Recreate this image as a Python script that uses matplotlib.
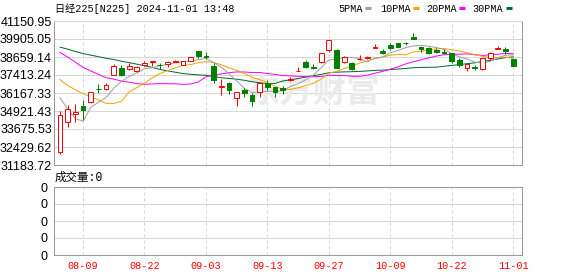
import matplotlib as mpl
mpl.use('Agg')
import matplotlib.pyplot as plt
from matplotlib.patches import Rectangle
from matplotlib.lines import Line2D

W, H = 578, 276

dates = ['08-06', '08-07', '08-08', '08-09', '08-13', '08-14', '08-15', '08-16', '08-19', '08-20',
         '08-21', '08-22', '08-23', '08-26', '08-27', '08-28', '08-29', '08-30', '09-02', '09-03',
         '09-04', '09-05', '09-06', '09-09', '09-10', '09-11', '09-12', '09-13', '09-17', '09-18',
         '09-19', '09-20', '09-24', '09-25', '09-26', '09-27', '09-30', '10-01', '10-02', '10-03',
         '10-04', '10-07', '10-08', '10-09', '10-10', '10-11', '10-15', '10-16', '10-17', '10-18',
         '10-21', '10-22', '10-23', '10-24', '10-25', '10-28', '10-29', '10-30', '10-31', '11-01']

opens = [32077, 34140, 34715, 35269, 35525, 36470, 36424, 37393, 37878, 37830,
         37710, 38080, 38340, 38130, 38150, 38340, 38106, 38383, 39050, 38720,
         38037, 36560, 36840, 35850, 36376, 36009, 36259, 36880, 36562, 36520,
         37080, 37690, 38334, 37940, 38334, 39144, 39144, 38292, 38265, 38500,
         38600, 39290, 39096, 39490, 39607, 39640, 40023, 39373, 39262, 39144,
         39000, 38916, 38452, 37878, 37960, 37808, 38570, 39230, 39213, 38500]
highs = [34911, 35320, 35407, 35663, 36260, 36770, 36880, 38175, 38106, 38265,
         38058, 38383, 38383, 38265, 38383, 38420, 38400, 38680, 39100, 38985,
         38224, 37137, 36950, 36240, 36494, 36148, 36931, 37068, 36600, 36653,
         37296, 37940, 38452, 38175, 38950, 39870, 39180, 38700, 38300, 38800,
         38727, 39560, 39190, 39607, 39650, 39710, 40300, 39440, 39373, 39262,
         39213, 38950, 38570, 38180, 38106, 38620, 39000, 39420, 39373, 38520]
lows = [31961, 33795, 34180, 34300, 35480, 36148, 36400, 37380, 37345, 37770,
        37643, 38050, 38070, 37808, 37989, 38300, 38080, 38360, 38570, 38521,
        36880, 36030, 36100, 35290, 35911, 35290, 35911, 36376, 35911, 36100,
        36999, 37680, 37878, 37830, 38224, 38985, 37880, 38250, 37780, 38480,
        38500, 39270, 38866, 39144, 39330, 39470, 39880, 39027, 38880, 38950,
        38866, 38265, 37989, 37712, 37760, 37790, 38452, 39230, 38890, 38030]
closes = [34675, 35089, 34831, 35025, 36232, 36442, 36726, 38062, 37388, 38050,
          37940, 38211, 38364, 38110, 38288, 38371, 38362, 38647, 38700, 38686,
          37047, 36657, 36391, 36215, 36159, 35619, 36833, 36581, 36203, 36380,
          37155, 37723, 37940, 37870, 38925, 39829, 37919, 38651, 37808, 38552,
          38635, 39332, 38937, 39277, 39380, 39605, 39910, 39180, 38911, 38981,
          38954, 38411, 38104, 38143, 37913, 38605, 38950, 39277, 39081, 38053]

ma5 = [35854, 35052, 34393, 34216, 35170, 35524, 35851, 36497, 36970, 37314,
       37559, 37856, 37917, 38061, 38129, 38269, 38299, 38356, 38474, 38553,
       38288, 37947, 37496, 36999, 36494, 36208, 36243, 36281, 36279, 36323,
       36630, 36808, 37080, 37414, 37923, 38457, 38497, 38639, 38626, 38552,
       38313, 38596, 38653, 38947, 39112, 39306, 39422, 39470, 39397, 39317,
       39187, 38887, 38672, 38519, 38305, 38235, 38358, 38593, 38781, 38809]
ma10 = [37096, 36689, 36385, 36121, 35897, 35689, 35451, 35445, 35593, 36242,
        36542, 36854, 37207, 37516, 37721, 37914, 38078, 38136, 38267, 38341,
        38279, 38123, 37926, 37736, 37524, 37248, 37095, 36889, 36639, 36409,
        36419, 36526, 36681, 36846, 37123, 37544, 37653, 37860, 38020, 38237,
        38385, 38546, 38646, 38787, 38832, 38810, 39009, 39062, 39172, 39215,
        39247, 39155, 39071, 38958, 38811, 38711, 38623, 38633, 38650, 38557]
ma20 = [38977, 38652, 38302, 37942, 37694, 37453, 37234, 37131, 36997, 36915,
        36819, 36771, 36796, 36818, 36809, 36802, 36765, 36791, 36930, 37292,
        37410, 37489, 37567, 37626, 37622, 37581, 37587, 37513, 37453, 37375,
        37349, 37325, 37303, 37291, 37323, 37396, 37374, 37374, 37330, 37323,
        37402, 37536, 37663, 37816, 37977, 38177, 38331, 38461, 38596, 38726,
        38816, 38850, 38859, 38872, 38822, 38760, 38816, 38847, 38911, 38886]
ma30 = [39340, 39204, 39042, 38898, 38787, 38680, 38569, 38485, 38367, 38269,
        38165, 38053, 37937, 37800, 37703, 37607, 37515, 37466, 37421, 37390,
        37305, 37222, 37173, 37124, 37047, 36950, 36875, 36823, 36833, 36997,
        37080, 37168, 37271, 37366, 37456, 37569, 37609, 37628, 37642, 37662,
        37694, 37732, 37751, 37790, 37826, 37867, 37919, 37937, 37944, 37954,
        38017, 38076, 38133, 38197, 38255, 38355, 38428, 38518, 38614, 38670]

price_ticks = [41150.95, 39905.05, 38659.14, 37413.24, 36167.33,
               34921.43, 33675.53, 32429.62, 31183.72]
date_ticks = ['08-09', '08-22', '09-03', '09-13', '09-27', '10-09', '10-22', '11-01']
vol_ticks = [0, 0, 0, 0, 0]

ma_names = ['5PMA', '10PMA', '20PMA', '30PMA']
ma_colors = ['#a0a0a0', '#f5a300', '#ff00ff', '#006b33']

UP = '#ff0000'
DOWN = '#008000'
GRID = '#d6d6d6'
BORDER = '#999999'
MONO = ['Liberation Mono', 'Noto Sans CJK SC']
LPX = 0.72


def fx(px):
  return px / W


def fy(py):
  return 1 - py / H


fig = plt.figure(figsize=(W / 100, H / 100), dpi=100)
fig.patch.set_facecolor('white')

ax = fig.add_axes([fx(54), fy(165), 468 / W, 144 / H])
vax = fig.add_axes([fx(54), fy(255), 468 / W, 68 / H])

n = len(dates)
xs = list(range(n))
xlo, xhi = -0.78, n - 1 + 1.15
tick_pos = [dates.index(d) for d in date_ticks]

# price panel
ax.set_xlim(xlo, xhi)
ax.set_ylim(price_ticks[-1], price_ticks[0])
ax.set_yticks(price_ticks)
ax.set_yticklabels(['%.2f' % v for v in price_ticks], family='Liberation Sans', fontsize=9)
ax.set_xticks(tick_pos)
ax.set_xticklabels([])
ax.tick_params(length=0, pad=1.5)
ax.set_axisbelow(True)
ax.grid(axis='y', color=GRID, lw=LPX, ls='-')
ax.grid(axis='x', color=GRID, lw=LPX, ls=(0, (3, 3)))
for s in ax.spines.values():
  s.set_color(BORDER)
  s.set_linewidth(LPX)
ax.spines['top'].set_color(GRID)

ax.text(0.553, 0.5, '东方财富', transform=ax.transAxes, ha='center', va='center',
        fontsize=24, color='#ebebeb', weight='bold', family='Noto Sans CJK SC', zorder=0.6)

for vals, c in zip([ma30, ma20, ma10, ma5], ma_colors[::-1]):
  ax.plot(xs, vals, color=c, lw=LPX, zorder=2)

bw = 0.62
for i in xs:
  o, h, l, c = opens[i], highs[i], lows[i], closes[i]
  top, bot = max(o, c), min(o, c)
  if c >= o:
    ax.add_patch(Rectangle((i - bw / 2, bot), bw, top - bot, fc='white', ec=UP, lw=LPX, zorder=3))
    ax.vlines(i, top, h, color=UP, lw=LPX, zorder=3)
    ax.vlines(i, l, bot, color=UP, lw=LPX, zorder=3)
  else:
    ax.vlines(i, l, h, color=DOWN, lw=LPX, zorder=3)
    ax.add_patch(Rectangle((i - bw / 2, bot), bw, top - bot, fc=DOWN, ec=DOWN, lw=LPX, zorder=3))

# volume panel
vax.set_xlim(xlo, xhi)
vax.set_ylim(0, len(vol_ticks) - 1)
vax.set_yticks(range(len(vol_ticks)))
vax.set_yticklabels([str(v) for v in vol_ticks], family='Liberation Sans', fontsize=9)
vax.set_xticks(tick_pos)
vax.set_xticklabels(date_ticks, family=MONO, fontsize=7.3, color=UP)
vax.tick_params(axis='y', length=0, pad=4.5)
vax.tick_params(axis='x', length=0, pad=4)
vax.set_axisbelow(True)
vax.grid(axis='y', color=GRID, lw=LPX, ls='-')
vax.grid(axis='x', color=GRID, lw=LPX, ls=(0, (3, 3)))
for s in vax.spines.values():
  s.set_color(BORDER)
  s.set_linewidth(LPX)

# header texts
fig.text(fx(55), fy(8.5), '日经225[N225] 2024-11-01 13:48', family=MONO, fontsize=7.3, va='center')
fig.text(fx(55), fy(178), '成交量:0', family=MONO, fontsize=8.3, va='center')

leg_x = [338, 380, 426, 472]
dash_x = [365, 413, 459, 506]
for name, c, tx, dx in zip(ma_names, ma_colors, leg_x, dash_x):
  fig.text(fx(tx), fy(8.5), name, family=MONO, fontsize=7.3, va='center')
  fig.add_artist(Line2D([fx(dx), fx(dx + 6)], [fy(8), fy(8)], transform=fig.transFigure,
                        color=c, lw=2.2, solid_capstyle='butt'))

fig.savefig('out.png', dpi=100)
